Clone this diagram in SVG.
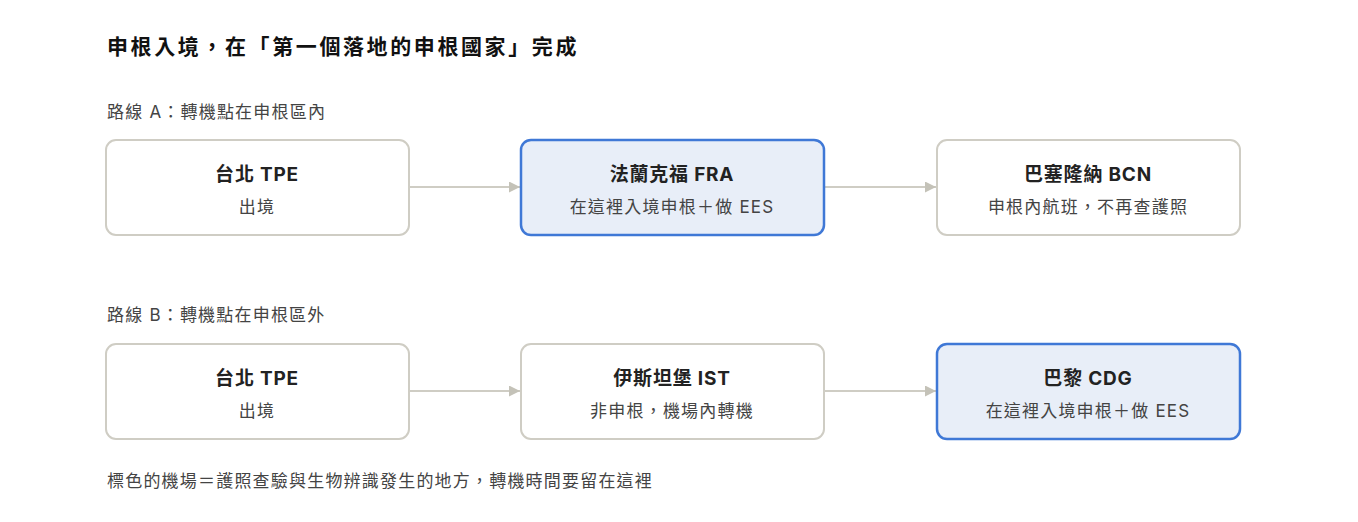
<svg xmlns="http://www.w3.org/2000/svg" width="1358" height="522" viewBox="0 0 1358 522">
<style>
text{font-family:Inter,"Noto Sans CJK TC",sans-serif;}
.n rect{fill:#fff;stroke:#cfcdc4;stroke-width:2}
.n.h rect{fill:#e8eef8;stroke:#3f78d6;stroke-width:2.5}
.t{font-size:19px;font-weight:700;fill:#222;text-anchor:middle;letter-spacing:0.8px}
.s{font-size:17px;fill:#444;text-anchor:middle;letter-spacing:1.2px}
.l{font-size:17px;fill:#444;letter-spacing:1.2px}
.c line{stroke:#cfcdc4;stroke-width:2;marker-end:url(#a)}
</style>
<defs><marker id="a" viewBox="0 0 10 10" refX="10" refY="5" markerWidth="11" markerHeight="11" markerUnits="userSpaceOnUse" orient="auto"><path d="M0 0L10 5L0 10z" fill="#c4c2b8"/></marker></defs>
<rect width="1358" height="522" fill="#fff"/>
<text x="107" y="54" style="font-size:21px;font-weight:700;fill:#111;letter-spacing:2.6px">申根入境，在「第一個落地的申根國家」完成</text>
<text x="107" y="118" class="l">路線 A：轉機點在申根區內</text>
<text x="107" y="321" class="l">路線 B：轉機點在申根區外</text>
<text x="107" y="487" class="l">標色的機場＝護照查驗與生物辨識發生的地方，轉機時間要留在這裡</text>
<g class="c">
<line x1="410" y1="187" x2="520" y2="187"/>
<line x1="825" y1="187" x2="936" y2="187"/>
<line x1="410" y1="391" x2="520" y2="391"/>
<line x1="825" y1="391" x2="936" y2="391"/>
</g>
<g id="a1" class="n"><rect x="106" y="140" width="303" height="95" rx="10"/><text x="257" y="181" class="t">台北 TPE</text><text x="257" y="213" class="s">出境</text></g>
<g id="a2" class="n h"><rect x="521" y="140" width="303" height="95" rx="10"/><text x="672" y="181" class="t">法蘭克福 FRA</text><text x="672" y="213" class="s">在這裡入境申根＋做 EES</text></g>
<g id="a3" class="n"><rect x="937" y="140" width="303" height="95" rx="10"/><text x="1088" y="181" class="t">巴塞隆納 BCN</text><text x="1088" y="213" class="s">申根內航班，不再查護照</text></g>
<g id="b1" class="n"><rect x="106" y="344" width="303" height="95" rx="10"/><text x="257" y="385" class="t">台北 TPE</text><text x="257" y="417" class="s">出境</text></g>
<g id="b2" class="n"><rect x="521" y="344" width="303" height="95" rx="10"/><text x="672" y="385" class="t">伊斯坦堡 IST</text><text x="672" y="417" class="s">非申根，機場內轉機</text></g>
<g id="b3" class="n h"><rect x="937" y="344" width="303" height="95" rx="10"/><text x="1088" y="385" class="t">巴黎 CDG</text><text x="1088" y="417" class="s">在這裡入境申根＋做 EES</text></g>
</svg>
